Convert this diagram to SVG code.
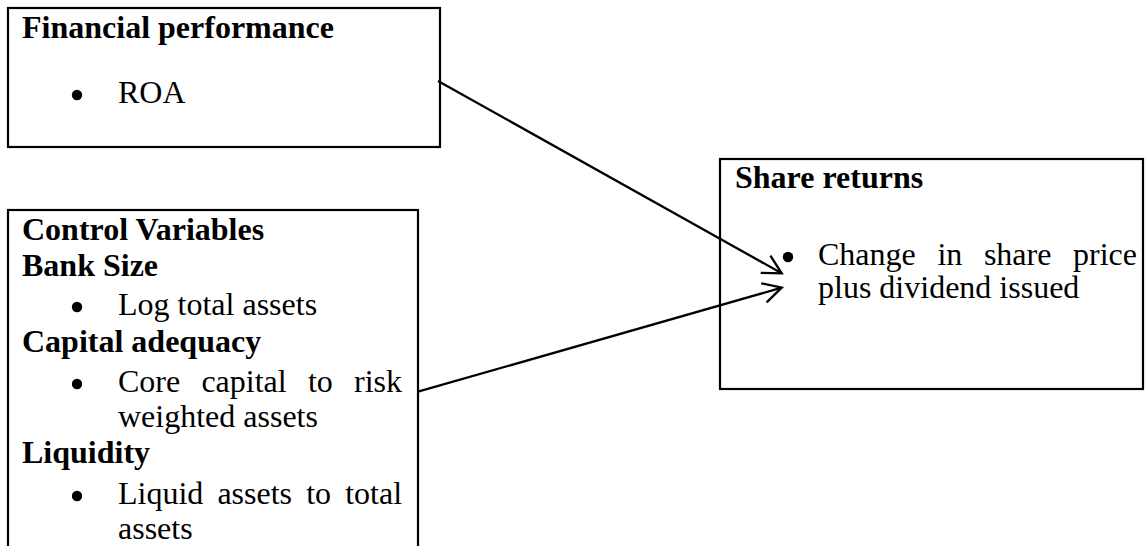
<svg xmlns="http://www.w3.org/2000/svg" width="1145" height="546" viewBox="0 0 1145 546">
<style>
.box{fill:none;stroke:#000;stroke-width:2.2}
.t{font-family:"Liberation Serif","Times New Roman",serif;font-size:32px;fill:#000}
.b{font-weight:bold}
.dot{fill:#000}
.conn{stroke:#000;stroke-width:2.3;fill:none}
</style>
<defs>
<marker id="arr" markerUnits="userSpaceOnUse" markerWidth="30" markerHeight="30" refX="0" refY="0" orient="auto" overflow="visible">
<path d="M -18.5 -9.9 L 0 0 L -18.5 9.9" fill="none" stroke="#000" stroke-width="2.3"/>
</marker>
</defs>
<rect width="1145" height="546" fill="#fff"/>
<g id="financial">
<rect class="box" x="8" y="8" width="432" height="139"/>
<text class="t b" x="22" y="38">Financial performance</text>
<circle class="dot" cx="77" cy="95" r="5.2"/>
<text class="t" x="118" y="103">ROA</text>
</g>
<g id="control">
<rect class="box" x="8" y="210" width="410" height="400"/>
<text class="t b" x="22" y="240">Control Variables</text>
<text class="t b" x="22" y="276">Bank Size</text>
<circle class="dot" cx="77" cy="307" r="5.2"/>
<text class="t" x="118" y="315">Log total assets</text>
<text class="t b" x="22" y="352">Capital adequacy</text>
<circle class="dot" cx="77" cy="384" r="5.2"/>
<text class="t" y="392"><tspan x="118">Core</tspan><tspan x="201.4">capital</tspan><tspan x="307.9">to</tspan><tspan x="354">risk</tspan></text>
<text class="t" x="118" y="427">weighted assets</text>
<text class="t b" x="22" y="463">Liquidity</text>
<circle class="dot" cx="77" cy="496" r="5.2"/>
<text class="t" y="504"><tspan x="118">Liquid</tspan><tspan x="217.4">assets</tspan><tspan x="306.2">to</tspan><tspan x="345.2">total</tspan></text>
<text class="t" x="118" y="539">assets</text>
</g>
<g id="share">
<rect class="box" x="720" y="159" width="423" height="230"/>
<text class="t b" x="735" y="188">Share returns</text>
<circle class="dot" cx="788" cy="257" r="5.2"/>
<text class="t" y="265"><tspan x="818">Change</tspan><tspan x="937.4">in</tspan><tspan x="983.9">share</tspan><tspan x="1073">price</tspan></text>
<text class="t" x="818" y="298">plus dividend issued</text>
</g>
<g id="connectors">
<line class="conn" x1="438" y1="81" x2="781.7" y2="273.3" marker-end="url(#arr)"/>
<line class="conn" x1="418" y1="391.7" x2="781.7" y2="287.7" marker-end="url(#arr)"/>
</g>
</svg>
